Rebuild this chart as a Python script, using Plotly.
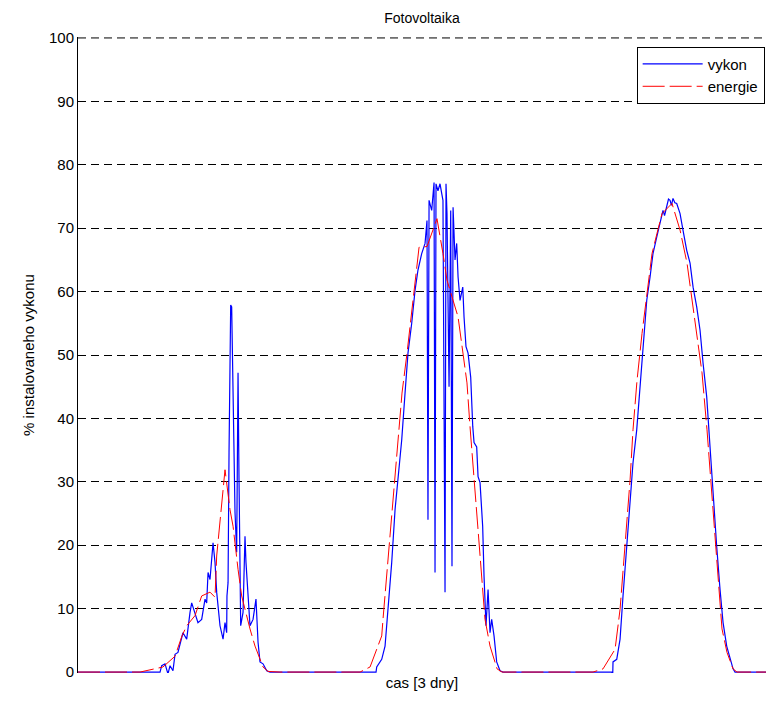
import plotly.graph_objects as go

# time in hours (3 days shown), values in % of installed power
t_vykon = [0.0, 8.37, 8.54, 8.88, 9.18, 9.39, 9.69, 9.90, 10.20, 10.41, 10.58, 10.71, 11.09, 11.2,
           11.43, 11.60, 11.94, 12.24, 12.62, 12.96, 13.13, 13.27, 13.47, 13.64, 13.78, 13.98, 14.15,
           14.49, 14.80, 15.0, 15.17, 15.20, 15.31, 15.41, 15.51, 15.58, 15.68, 15.79, 16.02, 16.19,
           16.33, 16.43, 16.60, 16.84, 17.04, 17.14, 17.35, 17.55, 17.86, 18.16, 18.37, 18.57, 18.88,
           19.26, 19.59,
           30.41, 30.48, 30.99, 31.33, 31.63, 32.01, 32.35, 32.65, 33.03, 33.37, 33.67, 34.05, 34.39,
           34.69, 35.07, 35.41, 35.61, 35.71, 35.82, 36.09, 36.22, 36.33, 36.43, 36.53, 36.73, 36.94,
           37.11, 37.24, 37.45, 37.55, 37.65, 37.86, 38.03, 38.16, 38.27, 38.47, 38.64, 38.78, 38.98,
           39.26, 39.39, 39.59, 39.80, 40.07, 40.28, 40.41, 40.68, 40.82, 41.02, 41.19, 41.29, 41.43,
           41.63, 41.84, 42.04, 42.21, 42.45, 42.72, 43.06, 43.37,
           54.46, 54.56, 54.59, 54.97, 55.31, 55.61, 55.99, 56.33, 56.63, 57.01, 57.35, 57.65, 58.03,
           58.37, 58.67, 59.05, 59.39, 59.69, 59.85, 60.07, 60.25, 60.41, 60.55, 60.71, 60.9, 61.09,
           61.25, 61.43, 61.73, 62.11, 62.45, 62.76, 63.13, 63.47, 63.78, 64.15, 64.49, 64.80, 65.17,
           65.51, 65.82, 66.19, 66.53, 66.84, 67.04, 70.2]
vykon = [0.0, 0.0, 1.0, 1.3, -0.3, 1.0, 0.2, 2.8, 3.1, 4.4, 5.2, 6.2, 5.2, 6.8,
         9.4, 10.9, 9.4, 7.8, 8.3, 11.5, 10.9, 15.7, 14.6, 17.3, 20.4, 17.3, 12.6,
         7.3, 5.2, 7.8, 6.2, 12.0, 14.1, 34.6, 48.2, 57.9, 57.6, 44.5, 25.2, 18.9,
         47.2, 30.3, 7.3, 9.4, 21.4, 17.3, 12.0, 7.3, 8.3, 11.5, 4.7, 1.6, 1.3,
         0.2, 0.0,
         0.0, 0.8, 2.0, 4.1, 9.9, 17.3, 25.6, 30.8, 36.6, 44.0, 50.3, 55.0, 60.2,
         63.4, 66.0, 67.6, 71.2, 24.0, 74.4, 72.8, 75.5, 77.2, 15.7, 77.0, 75.9, 77.0,
         75.5, 74.4, 12.6, 77.0, 72.3, 45.0, 72.8, 16.7, 73.3, 65.0, 67.6, 62.3, 58.6,
         60.7, 56.0, 51.3, 50.3, 46.5, 38.7, 36.2, 35.5, 30.8, 29.9, 25.6, 23.0, 15.1,
         7.3, 13.0, 6.2, 8.3, 5.7, 1.6, 0.2, 0.0,
         0.0, -0.5, 1.6, 2.0, 5.2, 12.0, 19.8, 26.1, 33.0, 38.2, 45.0, 52.4, 58.6,
         62.3, 66.0, 68.6, 70.8, 72.8, 72.0, 73.3, 74.6, 74.4, 73.6, 74.7, 74.0, 73.9,
         73.0, 72.3, 69.7, 66.5, 64.5, 60.7, 57.6, 53.9, 48.7, 43.4, 35.5, 27.7, 19.8,
         13.0, 7.8, 4.1, 2.0, 0.5, 0.0, 0.0]

t_energie = [0.0, 6.33, 8.67, 9.90, 10.61, 11.09, 11.94, 12.62, 13.47, 13.98, 14.15, 14.29, 14.80,
             15.0, 15.51, 15.82, 16.33, 16.70, 17.55, 18.06, 18.88, 19.39, 20.6,
             28.78, 29.80, 30.99, 31.12, 31.63, 32.14, 32.65, 33.06, 33.57, 34.08, 34.59, 34.80,
             35.61, 36.63, 37.24, 37.65, 38.78, 39.18, 39.69, 40.0, 40.51, 41.02, 41.53, 42.04,
             42.76, 43.27,
             52.55, 53.57, 54.80, 55.31, 55.82, 56.33, 56.63, 57.04, 57.55, 58.06, 58.57, 59.08,
             59.59, 60.61, 61.43, 62.14, 62.65, 63.16, 63.67, 64.18, 64.69, 65.20, 65.71, 66.22,
             66.84, 67.24, 70.2]
energie = [0.0, 0.0, 0.8, 2.5, 5.7, 7.3, 8.9, 12.0, 12.6, 11.8, 18.3, 20.6, 28.3,
           31.9, 25.6, 23.0, 16.2, 12.0, 6.8, 4.1, 0.8, 0.1, 0.0,
           0.0, 0.8, 5.7, 8.3, 17.8, 27.7, 37.1, 44.0, 50.3, 57.0, 63.4, 67.0,
           67.1, 71.5, 66.0, 61.8, 56.0, 51.3, 45.6, 38.7, 28.3, 17.3, 8.3, 4.1,
           0.5, 0.0,
           0.0, 0.5, 3.6, 9.9, 19.8, 30.3, 38.2, 46.0, 53.4, 60.2, 66.0, 69.2,
           72.3, 73.9, 69.7, 64.5, 58.6, 52.8, 47.2, 38.2, 27.7, 17.3, 6.8, 3.1,
           0.5, 0.0, 0.0]

y_ticks = list(range(0, 101, 10))
y_max = 100

FONT = "Liberation Sans, Arial, sans-serif"

fig = go.Figure()
fig.add_trace(go.Scatter(x=t_vykon, y=vykon, mode="lines", name="vykon",
                         line=dict(color="#0000FF", width=1.2)))
fig.add_trace(go.Scatter(x=t_energie, y=energie, mode="lines", name="energie",
                         line=dict(color="#FF0000", width=1, dash="22px,5px")))

fig.update_layout(
    width=766, height=701,
    margin=dict(l=78, r=0, t=37, b=28),
    paper_bgcolor="white", plot_bgcolor="white",
    font=dict(family=FONT, size=14, color="black"),
    title=dict(text="Fotovoltaika", x=(78 + 766) / 2 / 766, xanchor="center",
               y=1 - 18 / 701, yanchor="middle", font=dict(size=14)),
    showlegend=True,
    legend=dict(x=0.812, xanchor="left", y=0.985, yanchor="top",
                bordercolor="black", borderwidth=1, bgcolor="white",
                itemwidth=60, font=dict(size=15), tracegroupgap=0),
)
# top gridline at the upper edge of the axes (plotly omits the edge gridline)
fig.add_hline(y=y_max, line=dict(color="black", width=1, dash="8px,5px"), layer="below")
fig.update_xaxes(range=[0, 70.2], showticklabels=False, ticks="", showgrid=False,
                 zeroline=False, showline=False,
                 title=dict(text="cas [3 dny]", standoff=4, font=dict(size=15)))
fig.update_yaxes(range=[-0.15, 100.15], tickvals=y_ticks, ticks="inside", ticklen=5,
                 tickcolor="black", showline=True, linecolor="black", linewidth=1,
                 showgrid=True, gridcolor="black", gridwidth=1, griddash="8px,5px",
                 zeroline=False, tickfont=dict(size=15),
                 title=dict(text="% instalovaneho vykonu", standoff=10, font=dict(size=15)))

fig.write_html("out.html")
